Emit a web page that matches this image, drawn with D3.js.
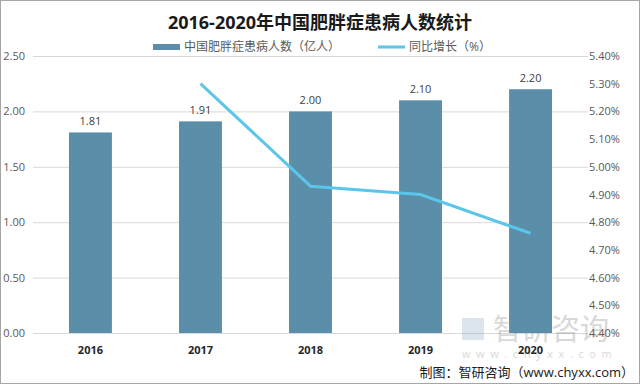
<!DOCTYPE html>
<html>
<head>
<meta charset="utf-8">
<script src="https://cdn.jsdelivr.net/npm/d3@7"></script>
<style>
  body { margin: 0; background: #fff; }
  text { font-family: "Open Sans", "Noto Sans CJK SC", sans-serif; }
</style>
</head>
<body>
<svg id="container" width="640" height="384"></svg>
<script>
const years = ["2016", "2017", "2018", "2019", "2020"];
const patients = [1.81, 1.91, 2.00, 2.10, 2.20];
// growth rate, no value for 2016
const growth = [null, 5.30, 4.93, 4.90, 4.76];
const leftTicks = [0, 0.5, 1.0, 1.5, 2.0, 2.5];
const rightTicks = [4.4, 4.5, 4.6, 4.7, 4.8, 4.9, 5.0, 5.1, 5.2, 5.3, 5.4];

const svg = d3.select("#container");

svg.append("rect")
    .attr("x", 0.5).attr("y", 0.5)
    .attr("width", 639).attr("height", 383)
    .attr("fill", "#fff")
    .attr("stroke", "#a6a6a6");

const x = d3.scaleBand().domain(years).range([36, 585]).paddingInner(0.61).paddingOuter(0.3);
const yL = d3.scaleLinear().domain([0, 2.5]).range([333, 56]);
const yR = d3.scaleLinear().domain([4.4, 5.4]).range([333, 56]);

// gridlines
svg.append("g")
  .selectAll("line").data(leftTicks).join("line")
    .attr("x1", 33).attr("x2", 588)
    .attr("y1", d => yL(d) + 0.5).attr("y2", d => yL(d) + 0.5)
    .attr("stroke", "#d9d9d9");

// left axis labels
const axL = svg.append("g").attr("transform", "translate(25,0)")
    .call(d3.axisLeft(yL).tickValues(leftTicks).tickFormat(d3.format(".2f")).tickSize(0).tickPadding(0));
axL.select(".domain").remove();
axL.selectAll("text").attr("font-size", 11).attr("fill", "#595959");

// right axis labels
const axR = svg.append("g").attr("transform", "translate(589,0)")
    .call(d3.axisRight(yR).tickValues(rightTicks).tickFormat(d => d.toFixed(2) + "%").tickSize(0).tickPadding(0));
axR.select(".domain").remove();
axR.selectAll("text").attr("font-size", 11).attr("fill", "#595959");

// watermark
const wm = svg.append("g").attr("opacity", 0.3);
wm.append("rect").attr("x", 462).attr("y", 318).attr("width", 22).attr("height", 22).attr("fill", "#8fa7c4");
wm.append("text").attr("x", 493).attr("y", 340).attr("font-size", 29)
    .attr("font-family", "Noto Sans CJK SC").attr("fill", "#7f7f7f").text("智研咨询");
wm.append("text").attr("x", 462).attr("y", 358).attr("font-size", 11)
    .attr("letter-spacing", 5.6).attr("fill", "#7f7f7f").text("www.chyxx.com");

// bars
svg.append("g")
  .selectAll("rect").data(patients).join("rect")
    .attr("x", (d, i) => x(years[i]))
    .attr("y", d => yL(d))
    .attr("width", x.bandwidth())
    .attr("height", d => yL(0) - yL(d))
    .attr("fill", "#5a8ea9");

svg.append("g")
  .selectAll("text").data(patients).join("text")
    .attr("x", (d, i) => x(years[i]) + x.bandwidth() / 2)
    .attr("y", d => yL(d) - 7)
    .attr("text-anchor", "middle")
    .attr("font-size", 11)
    .attr("fill", "#404040")
    .text(d => d.toFixed(2));

// line
const line = d3.line()
    .defined(d => d != null)
    .x((d, i) => x(years[i]) + x.bandwidth() / 2)
    .y(d => yR(d));
svg.append("path")
    .datum(growth)
    .attr("d", line)
    .attr("fill", "none")
    .attr("stroke", "#5bc5ea")
    .attr("stroke-width", 3);

// x labels
svg.append("g")
  .selectAll("text").data(years).join("text")
    .attr("x", d => x(d) + x.bandwidth() / 2)
    .attr("y", 354)
    .attr("text-anchor", "middle")
    .attr("font-size", 11)
    .attr("font-weight", "bold")
    .attr("fill", "#262626")
    .text(d => d);

// title
svg.append("text")
    .attr("x", 320).attr("y", 29)
    .attr("text-anchor", "middle")
    .attr("font-size", 18).attr("font-weight", "bold")
    .attr("font-family", "'Noto Sans CJK SC', sans-serif")
    .attr("fill", "#1a1a1a")
    .text("2016-2020年中国肥胖症患病人数统计");

// legend
const lg = svg.append("g").attr("font-size", 12).attr("fill", "#595959");
lg.append("rect").attr("x", 153).attr("y", 44).attr("width", 27).attr("height", 6).attr("fill", "#5a8ea9");
lg.append("text").attr("x", 184).attr("y", 51).attr("font-family", "'Noto Sans CJK SC'")
    .attr("fill", "#595959").text("中国肥胖症患病人数（亿人）");
lg.append("line").attr("x1", 378).attr("x2", 405).attr("y1", 47).attr("y2", 47)
    .attr("stroke", "#5bc5ea").attr("stroke-width", 3);
lg.append("text").attr("x", 409).attr("y", 51).attr("font-family", "'Noto Sans CJK SC'")
    .attr("fill", "#595959").text("同比增长（%）");

// source
svg.append("text")
    .attr("x", 634).attr("y", 377)
    .attr("text-anchor", "end")
    .attr("font-size", 13)
    .attr("font-family", "'Noto Sans CJK SC'")
    .attr("fill", "#1a1a1a")
    .text("制图：智研咨询（www.chyxx.com）");
</script>
</body>
</html>
